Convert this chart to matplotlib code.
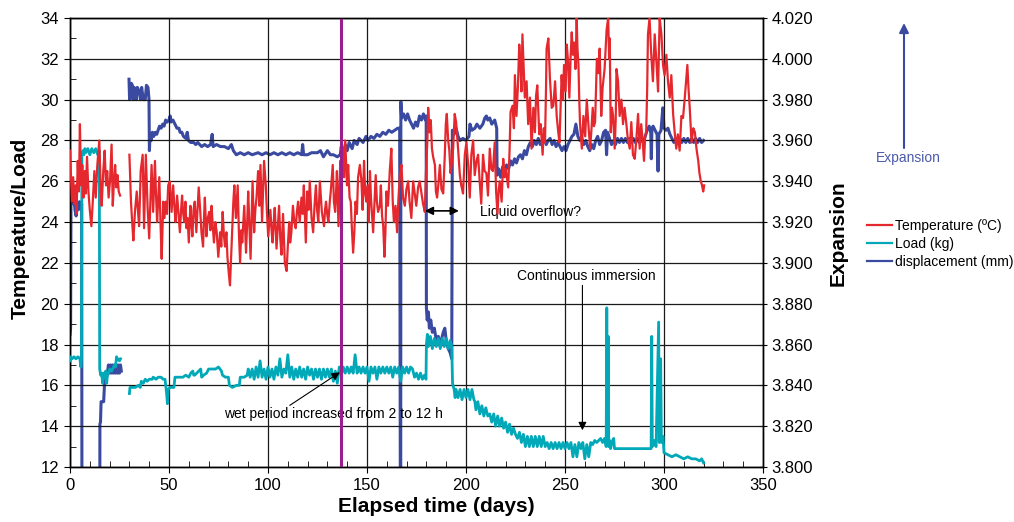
import numpy as np
import matplotlib.pyplot as plt
from matplotlib.lines import Line2D
from matplotlib.ticker import MultipleLocator, FormatStrFormatter

plt.rcParams['font.family'] = ['Liberation Sans', 'DejaVu Sans']

nan = np.nan

# temperature (deg C), (day, value)
temperature = [
    (0.0, 27.5), (0.5, 26.3), (1.0, 25.0), (1.6, 26.2), (2.2, 24.9), (2.8, 25.8), (3.3, 24.4),
    (3.9, 27.0), (4.5, 25.5), (5.0, 28.8), (5.6, 25.8), (6.2, 26.8), (6.8, 25.2), (7.4, 26.5),
    (8.0, 25.4), (8.6, 27.2), (9.3, 25.5), (10.0, 24.6), (10.8, 23.8), (11.5, 25.0), (12.3, 26.5),
    (13.0, 25.2), (13.8, 26.8), (14.8, 28.0), (15.5, 25.6), (16.0, 24.8), (16.8, 26.5), (17.5, 27.5),
    (18.2, 25.8), (18.8, 26.5), (19.5, 25.2), (20.2, 26.0), (21.0, 27.8), (21.6, 24.8), (22.2, 26.0),
    (22.8, 26.8), (23.4, 25.7), (24.0, 26.3), (24.6, 25.5), (25.3, 25.3), (27.0, nan),
    (30.0, 27.3), (30.8, 25.0), (31.4, 24.0), (32.0, 23.1), (32.8, 24.5), (33.7, 25.5), (34.3, 24.6),
    (34.9, 23.8), (35.7, 26.5), (36.7, 27.3), (37.4, 23.7), (38.3, 27.3), (39.2, 24.7), (40.0, 23.2),
    (40.6, 25.0), (41.2, 26.8), (42.0, 24.5), (42.9, 27.0), (43.5, 25.2), (44.0, 24.0), (45.1, 26.2),
    (45.7, 24.0), (46.3, 22.2), (47.1, 25.0), (47.7, 24.2), (48.3, 25.0), (49.0, 24.4), (49.6, 25.8),
    (50.4, 26.0), (51.3, 24.5), (52.1, 25.8), (52.7, 24.8), (53.3, 24.0), (54.1, 25.3), (54.8, 24.4),
    (55.5, 23.5), (56.1, 24.6), (56.6, 25.3), (57.2, 24.4), (57.7, 24.0), (58.3, 25.0), (58.8, 23.7),
    (59.4, 24.2), (60.0, 23.0), (60.8, 24.8), (61.3, 24.0), (61.8, 23.3), (62.4, 24.6), (63.0, 25.0),
    (63.8, 23.5), (64.4, 24.6), (65.0, 25.7), (65.8, 24.5), (66.4, 23.5), (67.2, 22.8), (67.6, 24.0),
    (68.1, 25.2), (68.9, 23.3), (69.6, 24.2), (70.3, 24.5), (70.9, 23.6), (71.5, 24.8), (72.1, 23.8),
    (72.7, 23.0), (73.4, 24.0), (74.1, 23.5), (74.9, 22.3), (75.8, 23.5), (76.4, 22.8), (77.1, 24.5),
    (77.7, 23.4), (78.3, 22.8), (79.0, 23.5), (79.5, 22.3), (80.2, 21.5), (80.8, 20.9), (81.4, 22.4),
    (82.0, 23.8), (82.5, 25.0), (83.0, 25.8), (83.8, 24.2), (84.7, 25.8), (85.3, 23.5), (85.9, 22.0),
    (86.5, 23.6), (87.0, 23.0), (88.0, 24.8), (88.9, 22.5), (89.5, 24.0), (90.0, 25.5), (90.6, 23.8),
    (91.2, 22.2), (91.7, 24.0), (92.2, 26.0), (93.0, 23.5), (93.6, 24.6), (94.2, 25.2), (95.0, 26.5),
    (95.6, 24.8), (96.2, 26.8), (97.0, 24.0), (97.5, 25.5), (98.0, 27.0), (98.9, 25.8), (99.5, 24.4),
    (100.1, 23.3), (100.7, 24.0), (101.2, 24.6), (101.8, 23.6), (102.3, 23.0), (102.9, 24.0),
    (103.4, 24.7), (104.3, 22.7), (105.0, 23.8), (105.6, 24.8), (106.2, 23.2), (106.8, 22.4),
    (107.6, 24.4), (108.5, 22.0), (109.4, 21.6), (110.0, 22.8), (110.7, 24.0), (111.2, 23.0),
    (111.8, 23.5), (112.6, 24.8), (113.3, 24.0), (114.0, 23.7), (114.6, 24.5), (115.2, 25.0),
    (116.0, 24.0), (116.9, 25.2), (117.5, 24.4), (118.1, 25.8), (119.1, 23.0), (119.8, 25.5),
    (120.5, 24.6), (121.1, 26.0), (122.0, 24.2), (122.8, 23.5), (123.5, 24.8), (124.2, 25.8),
    (124.8, 24.6), (125.4, 24.0), (126.2, 26.0), (127.2, 24.5), (128.3, 23.8), (128.8, 24.6),
    (129.3, 25.0), (130.0, 24.3), (130.5, 24.0), (131.2, 25.0), (131.7, 25.5), (132.7, 26.8),
    (133.3, 25.0), (133.9, 24.5), (134.4, 25.5), (134.8, 26.5), (135.6, 23.8), (136.1, 25.5),
    (136.5, 27.0), (137.2, 26.0), (137.8, 27.6), (138.4, 26.2), (139.0, 28.0), (139.9, 25.8),
    (140.5, 26.8), (141.2, 25.2), (141.8, 25.0), (142.4, 23.6), (143.0, 22.5), (143.6, 23.5),
    (144.2, 25.0), (144.9, 24.4), (145.5, 26.2), (146.4, 26.8), (147.2, 26.0), (147.8, 24.6),
    (148.5, 27.0), (149.1, 25.4), (149.7, 25.0), (150.4, 25.8), (150.9, 24.0), (151.5, 26.5),
    (152.0, 25.2), (153.1, 23.5), (153.7, 24.8), (154.4, 26.3), (155.0, 25.0), (155.6, 24.5),
    (156.5, 24.8), (157.0, 25.8), (157.6, 24.3), (158.2, 23.8), (158.8, 22.3), (159.3, 23.5),
    (159.8, 25.5), (160.6, 24.8), (161.5, 26.5), (162.3, 27.6), (163.0, 25.0), (163.6, 24.0),
    (164.4, 24.8), (165.2, 23.5), (165.8, 25.0), (166.6, 26.3), (167.4, 26.8), (168.2, 25.2),
    (169.1, 24.8), (169.9, 25.6), (170.8, 26.0), (171.5, 25.0), (172.4, 24.2), (173.3, 26.0),
    (174.1, 25.4), (174.9, 24.8), (175.8, 25.7), (176.6, 26.0), (177.5, 25.4), (178.3, 24.9),
    (179.2, 24.5), (179.8, 26.5), (180.5, 28.0), (180.9, 29.6), (181.6, 28.4), (182.2, 29.0),
    (182.8, 27.6), (183.4, 27.2), (184.3, 26.8), (184.8, 25.5), (185.4, 25.2), (186.0, 25.8),
    (186.8, 26.8), (187.6, 25.6), (188.5, 25.4), (189.3, 27.3), (189.8, 28.8), (190.3, 29.3),
    (191.0, 28.0), (191.6, 27.5), (192.2, 26.4), (192.7, 26.8), (193.5, 27.6), (194.3, 29.3),
    (195.0, 28.9), (196.0, 27.6), (196.9, 26.3), (197.6, 25.8), (198.5, 25.4), (199.4, 27.3),
    (200.2, 27.9), (201.1, 26.8), (201.9, 25.2), (202.7, 27.3), (203.6, 28.0), (204.4, 26.3),
    (205.3, 27.0), (206.1, 27.3), (206.9, 26.0), (207.7, 24.9), (208.6, 27.3), (209.4, 26.5),
    (210.3, 26.4), (211.1, 25.3), (212.0, 27.6), (212.8, 26.6), (213.6, 26.5), (214.5, 27.9),
    (215.2, 25.5), (215.9, 24.4), (216.5, 25.6), (217.1, 26.0), (218.0, 25.0), (218.8, 27.1),
    (219.5, 26.2), (220.1, 26.6), (221.3, 25.7), (222.0, 27.5), (222.5, 29.4), (223.5, 29.7),
    (224.2, 28.6), (224.7, 31.2), (225.5, 29.2), (226.2, 30.6), (226.9, 32.7), (227.5, 31.7),
    (228.0, 30.4), (228.5, 33.2), (229.1, 31.6), (229.7, 30.1), (230.6, 30.9), (231.4, 28.8),
    (232.3, 30.1), (233.1, 27.6), (234.0, 29.6), (234.8, 28.4), (235.4, 30.2), (236.0, 30.7),
    (237.0, 28.3), (237.7, 28.8), (238.7, 27.3), (239.3, 28.6), (239.9, 27.9), (240.4, 30.5),
    (240.7, 32.5), (241.6, 33.0), (242.4, 31.0), (243.3, 29.6), (244.1, 29.7), (245.0, 30.9),
    (245.8, 29.2), (246.5, 28.5), (247.2, 27.9), (248.3, 31.2), (249.0, 30.0), (249.5, 31.7),
    (250.3, 30.4), (250.9, 32.7), (251.6, 31.8), (252.2, 30.1), (252.8, 32.0), (253.4, 33.3),
    (254.0, 32.2), (254.6, 32.8), (255.3, 31.5), (255.9, 34.0), (256.3, 32.5), (256.8, 31.7),
    (257.2, 30.0), (257.6, 28.8), (258.5, 27.6), (259.3, 29.2), (260.2, 28.2), (261.0, 30.0),
    (261.8, 28.8), (262.7, 27.6), (263.4, 28.6), (264.0, 29.6), (264.6, 28.7), (265.2, 28.9),
    (266.1, 32.0), (266.8, 31.3), (267.5, 32.5), (268.3, 29.2), (269.0, 30.6), (270.0, 31.5),
    (271.0, 33.4), (271.8, 34.0), (272.3, 32.0), (272.6, 33.0), (273.1, 28.4), (273.7, 29.6),
    (274.3, 29.2), (275.1, 27.6), (275.6, 29.0), (276.0, 31.5), (276.8, 30.9), (277.6, 29.2),
    (278.5, 30.0), (279.3, 28.8), (280.1, 29.6), (281.0, 28.8), (281.8, 28.0), (282.7, 27.6),
    (283.5, 28.9), (284.3, 27.3), (285.2, 27.1), (286.0, 28.0), (286.9, 29.3), (287.7, 27.6),
    (288.5, 28.8), (289.2, 28.0), (289.9, 27.0), (290.5, 28.2), (291.0, 28.4), (291.5, 30.5),
    (291.9, 33.2), (292.7, 34.0), (293.5, 32.3), (294.4, 30.9), (295.3, 33.2), (296.2, 31.8),
    (297.0, 30.4), (297.8, 34.0), (298.7, 33.2), (299.5, 31.7), (300.3, 31.2), (301.2, 32.2),
    (302.0, 30.9), (302.9, 30.1), (303.7, 31.2), (304.6, 29.3), (305.4, 28.4), (306.2, 27.6),
    (307.0, 28.3), (307.9, 27.5), (308.8, 29.2), (309.6, 29.1), (310.5, 30.1), (311.8, 31.7),
    (312.4, 30.5), (313.0, 29.6), (313.9, 27.9), (314.8, 28.6), (315.6, 28.4), (316.4, 27.6),
    (317.3, 27.0), (317.9, 26.4), (318.6, 26.0), (319.2, 25.8), (319.8, 25.5), (320.3, 25.8),
]

# load (kg)
load = [
    (0.0, 17.2), (0.3, 17.4), (1.0, 17.3), (2.0, 17.4), (3.0, 17.3), (4.0, 17.4), (5.0, 17.3),
    (5.5, 16.9), (5.8, 17.3), (6.0, 27.3), (6.5, 27.5), (7.0, 27.3), (7.5, 27.6), (8.0, 27.4),
    (9.0, 27.6), (10.0, 27.3), (11.0, 27.6), (12.0, 27.4), (13.0, 27.6), (14.0, 27.3), (14.8, 27.5),
    (15.0, 16.8), (15.5, 16.5), (16.0, 16.6), (16.5, 16.1), (17.0, 16.6), (17.5, 16.4), (18.0, 16.7),
    (18.5, 16.1), (19.0, 16.6), (19.5, 16.6), (20.0, 16.8), (21.0, 16.7), (22.0, 16.9), (22.5, 17.0),
    (23.0, 16.9), (23.5, 17.4), (24.0, 17.3), (25.0, 17.2), (25.5, 17.3), (27.0, nan),
    (30.0, 15.6), (30.3, 15.9), (31.0, 15.9), (33.0, 15.9), (34.5, 16.0), (35.5, 15.9), (36.0, 16.2),
    (37.0, 16.1), (38.0, 16.3), (39.0, 16.2), (40.0, 16.3), (41.5, 16.3), (42.0, 16.4), (43.5, 16.3),
    (44.5, 16.4), (46.0, 16.4), (47.0, 16.3), (48.0, 16.3), (48.8, 15.6), (49.2, 15.1), (49.6, 15.8),
    (50.5, 15.9), (52.5, 15.9), (53.0, 16.4), (55.0, 16.4), (57.0, 16.4), (58.5, 16.5), (60.0, 16.4),
    (61.0, 16.6), (62.0, 16.7), (62.5, 16.5), (63.0, 16.5), (65.0, 16.7), (66.0, 16.8), (66.5, 16.4),
    (67.5, 16.5), (69.0, 16.6), (70.0, 16.8), (72.0, 16.8), (73.5, 16.8), (75.0, 16.9), (76.5, 16.7),
    (77.0, 16.5), (78.5, 16.4), (80.0, 16.4), (80.5, 16.0), (82.0, 15.9), (84.0, 16.0), (85.5, 16.0),
    (86.0, 16.4), (88.0, 16.4), (89.5, 16.5), (90.0, 16.8), (91, 16.4), (92, 16.8), (93, 16.3),
    (94, 16.9), (95, 16.4), (96, 17.2), (97, 16.4), (98, 16.8), (99, 16.3), (100, 16.9), (101, 16.4),
    (102, 16.8), (103, 16.3), (104, 16.9), (105, 16.5), (106, 17.3), (107, 16.4), (108, 16.8),
    (109, 16.6), (110, 17.5), (111, 16.4), (112, 16.9), (113, 16.3), (114, 16.8), (115, 16.4),
    (116, 16.9), (117, 16.4), (118, 16.8), (119, 16.3), (120, 16.9), (121, 16.5), (122, 16.8),
    (123, 16.3), (124, 16.8), (125, 16.4), (126, 16.8), (127, 16.3), (128, 16.8), (129, 16.4),
    (130, 16.8), (131, 16.4), (132, 16.8), (133, 16.2), (134, 16.7), (135, 16.1), (136, 16.9),
    (137, 16.5), (138, 16.9), (139, 16.6), (140, 16.9), (141, 16.6), (142, 16.9), (143, 16.6),
    (144, 17.5), (145, 16.6), (146, 16.9), (147, 16.6), (148, 16.9), (149, 16.6), (150, 16.9),
    (151, 16.2), (152, 16.9), (153, 16.6), (154, 16.9), (155, 16.3), (156, 16.9), (157, 16.6),
    (158, 16.9), (159, 16.6), (160, 16.9), (161, 16.6), (162, 16.9), (163, 16.4), (164, 16.9),
    (165, 16.6), (166, 16.9), (167, 16.2), (168, 16.9), (169, 16.6), (170, 16.9), (171, 16.6),
    (172, 16.9), (173, 16.8), (174, 16.4), (175, 16.6), (176, 16.3), (177, 16.6), (178, 16.3),
    (179, 16.5), (179.8, 16.3), (180.0, 18.0), (180.5, 18.5), (181.0, 17.9), (182, 18.4), (183, 17.8),
    (184, 18.3), (185, 17.9), (186, 18.3), (187, 17.8), (188, 18.3), (189, 17.9), (190, 18.3),
    (191, 17.8), (192, 18.2), (192.8, 17.9), (193.2, 16.1), (194.0, 15.8), (194.5, 15.4), (195, 15.8),
    (196, 15.4), (197, 15.8), (198, 15.3), (199, 15.8), (200, 15.4), (201, 15.8), (202, 15.3),
    (203, 15.8), (204, 15.3), (204.5, 15.2), (205, 14.8), (206, 15.2), (207, 14.6), (208, 15.0),
    (209, 14.5), (210, 14.9), (211, 14.5), (212, 14.6), (213, 14.2), (214, 14.6), (215, 14.0),
    (216, 14.5), (217, 14.0), (218, 14.4), (219, 13.9), (220, 14.2), (221, 13.7), (222, 14.1),
    (223, 13.6), (224, 13.9), (225, 13.6), (226, 13.4), (227, 13.7), (228, 13.2), (229, 13.6),
    (230, 13.0), (231, 13.5), (232, 13.0), (233, 13.5), (234, 13.0), (235, 13.5), (236, 13.0),
    (237, 13.5), (238, 13.0), (239, 13.5), (240, 13.0), (241, 13.2), (242, 12.9), (243, 13.2),
    (244, 12.9), (245, 13.2), (246, 12.9), (247, 13.2), (248, 12.9), (249, 13.2), (250, 12.9),
    (251, 13.2), (252, 12.9), (253, 13.2), (254, 12.5), (255, 13.1), (256, 12.5), (257, 13.2),
    (258, 12.9), (259, 13.2), (260, 12.4), (261, 13.1), (262, 12.5), (263, 13.2), (264, 13.1),
    (265, 13.3), (266, 13.2), (267, 13.3), (268, 13.4), (269, 13.2), (270, 13.4), (270.8, 13.0),
    (271.1, 19.8), (271.4, 13.2), (271.8, 18.4), (272.1, 13.0), (272.5, 13.3), (273, 12.9),
    (274, 13.3), (274.6, 13.4), (275, 12.9), (280, 12.9), (285, 12.9), (290, 12.9), (293.5, 12.9),
    (293.8, 18.4), (294.1, 13.0), (295, 13.3), (296, 13.0), (297.3, 19.1), (297.6, 13.2),
    (298.3, 17.3), (298.7, 13.2), (299.5, 13.5), (300, 12.7), (302, 12.6), (304, 12.5), (306, 12.6),
    (308, 12.5), (310, 12.4), (312, 12.5), (314, 12.4), (316, 12.4), (318, 12.3), (319, 12.4),
    (320, 12.2),
]

# displacement (mm), right axis; 3.70 = below the visible range
displacement = [
    (0.0, 3.865), (0.3, 3.868), (0.5, 3.930), (1.0, 3.934), (1.5, 3.929), (2.0, 3.933), (2.5, 3.926),
    (3.1, 3.923), (3.6, 3.929), (4.2, 3.926), (4.8, 3.930), (5.4, 3.927), (5.9, 3.929), (6.1, 3.70),
    (15.0, 3.70), (15.1, 3.821), (15.4, 3.822), (15.7, 3.832), (17.0, 3.832), (17.5, 3.842),
    (18.3, 3.843), (18.9, 3.846), (19.4, 3.850), (20.0, 3.846), (20.5, 3.850), (21.0, 3.846),
    (21.5, 3.850), (22.0, 3.846), (22.5, 3.850), (23.0, 3.846), (23.5, 3.850), (24.0, 3.846),
    (24.5, 3.850), (25.0, 3.846), (25.5, 3.850), (25.9, 3.847), (27.0, nan),
    (29.8, 3.990), (30.1, 3.980), (30.6, 3.981), (31.0, 3.988), (31.5, 3.987), (32.0, 3.980),
    (32.4, 3.986), (33.0, 3.985), (33.5, 3.980), (34.0, 3.986), (35.0, 3.984), (35.6, 3.980),
    (36.2, 3.986), (37.0, 3.980), (38.0, 3.980), (38.6, 3.987), (39.4, 3.986), (39.9, 3.980),
    (40.1, 3.955), (40.4, 3.962), (41.0, 3.960), (41.6, 3.964), (42.3, 3.962), (43.0, 3.964),
    (43.8, 3.963), (44.5, 3.965), (45.2, 3.967), (46.0, 3.966), (46.8, 3.968), (47.5, 3.967),
    (48.3, 3.970), (49.0, 3.969), (50.0, 3.970), (50.6, 3.972), (51.0, 3.969), (52.0, 3.970),
    (53.0, 3.968), (54.0, 3.966), (55.0, 3.966), (55.6, 3.964), (56.5, 3.964), (57.3, 3.962),
    (58.5, 3.961), (59.2, 3.964), (59.8, 3.960), (61.0, 3.959), (62.5, 3.959), (63.5, 3.958),
    (64.5, 3.959), (65.5, 3.958), (66.5, 3.957), (68.0, 3.958), (69.5, 3.957), (71.0, 3.958),
    (71.8, 3.963), (72.3, 3.957), (74.0, 3.958), (76.0, 3.957), (78.0, 3.957), (80.0, 3.956),
    (81.5, 3.958), (82.5, 3.955), (84.0, 3.953), (86.0, 3.954), (88.0, 3.953), (90.0, 3.954),
    (92.0, 3.953), (95.0, 3.954), (97.0, 3.953), (99.0, 3.954), (101.0, 3.953), (103.0, 3.954),
    (105.0, 3.953), (107.0, 3.954), (109.0, 3.953), (111.0, 3.954), (113.0, 3.953), (115.0, 3.954),
    (117.0, 3.953), (117.5, 3.958), (118.0, 3.953), (120.0, 3.953), (122.0, 3.954), (125.0, 3.954),
    (126.5, 3.955), (128.0, 3.952), (130.0, 3.955), (131.5, 3.953), (133.0, 3.953), (135.0, 3.952),
    (136.5, 3.953), (137.0, 3.957), (138.0, 3.953), (139.0, 3.958), (140.0, 3.955), (141.0, 3.959),
    (142.5, 3.956), (143.5, 3.960), (145.0, 3.958), (146.0, 3.961), (148.0, 3.959), (149.5, 3.962),
    (150.5, 3.960), (152.0, 3.962), (153.5, 3.961), (155.0, 3.963), (156.5, 3.962), (158.0, 3.964),
    (159.5, 3.963), (161.0, 3.965), (162.5, 3.964), (164.0, 3.965), (165.5, 3.966), (166.5, 3.966),
    (167.0, 3.70), (167.1, 3.979), (167.5, 3.971), (168.5, 3.973), (169.5, 3.970), (170.5, 3.973),
    (171.5, 3.970), (172.5, 3.968), (173.5, 3.966), (174.5, 3.969), (175.5, 3.967), (176.5, 3.972),
    (177.5, 3.970), (178.5, 3.973), (179.5, 3.970), (179.9, 3.972),
    (180.0, 3.878), (180.4, 3.872), (181.0, 3.876), (181.5, 3.868), (182.2, 3.872), (183.0, 3.866),
    (184.0, 3.868), (185.0, 3.862), (186.0, 3.864), (187.0, 3.860), (188.5, 3.866), (189.3, 3.868),
    (190.0, 3.862), (191.0, 3.858), (192.0, 3.856), (192.8, 3.853),
    (193.1, 3.965), (194.0, 3.963), (195.0, 3.966), (196.0, 3.962), (197.0, 3.960), (198.5, 3.961),
    (200.0, 3.960), (201.5, 3.962), (202.0, 3.968), (203.0, 3.965), (204.5, 3.966), (205.5, 3.968),
    (207.0, 3.966), (208.5, 3.968), (209.5, 3.971), (210.3, 3.972), (211.0, 3.970), (212.0, 3.971),
    (213.0, 3.968), (214.5, 3.970), (215.5, 3.966), (215.7, 3.943), (216.5, 3.946), (217.5, 3.942),
    (218.5, 3.947), (219.5, 3.944), (220.5, 3.948), (221.5, 3.946), (222.5, 3.950), (223.5, 3.948),
    (224.5, 3.951), (225.5, 3.949), (226.5, 3.952), (227.5, 3.953), (228.5, 3.951), (229.5, 3.955),
    (230.5, 3.953), (231.5, 3.957), (232.5, 3.959), (233.5, 3.957), (234.5, 3.960), (235.5, 3.958),
    (236.5, 3.961), (237.5, 3.958), (238.5, 3.960), (239.5, 3.961), (240.5, 3.958), (241.5, 3.960),
    (242.5, 3.961), (243.5, 3.958), (244.5, 3.960), (245.5, 3.957), (246.5, 3.959), (247.5, 3.957),
    (248.5, 3.955), (249.5, 3.957), (250.5, 3.955), (251.5, 3.958), (252.5, 3.960), (253.5, 3.962),
    (254.5, 3.963), (255.5, 3.968), (256.5, 3.962), (257.5, 3.960), (258.5, 3.961), (259.5, 3.958),
    (260.5, 3.960), (261.5, 3.957), (262.5, 3.955), (263.5, 3.958), (264.5, 3.956), (265.5, 3.960),
    (266.5, 3.962), (267.5, 3.958), (268.5, 3.960), (269.5, 3.964), (270.5, 3.965), (271.0, 3.953),
    (271.5, 3.964), (272.5, 3.961), (273.5, 3.958), (274.5, 3.960), (275.5, 3.958), (276.5, 3.961),
    (277.5, 3.959), (278.5, 3.961), (279.5, 3.959), (280.5, 3.961), (281.5, 3.959), (282.5, 3.961),
    (283.5, 3.959), (284.5, 3.961), (285.5, 3.959), (286.5, 3.961), (287.5, 3.959), (288.5, 3.961),
    (289.5, 3.959), (290.5, 3.962), (291.5, 3.965), (292.5, 3.967), (293.3, 3.964), (293.6, 3.951),
    (293.9, 3.966), (294.5, 3.967), (295.5, 3.965), (296.5, 3.963), (297.0, 3.945), (297.4, 3.963),
    (298.5, 3.965), (299.4, 3.976), (300.0, 3.966), (301.0, 3.965), (302.0, 3.966), (303.0, 3.963),
    (304.0, 3.961), (305.0, 3.959), (306.0, 3.961), (307.0, 3.959), (308.0, 3.961), (309.0, 3.959),
    (310.0, 3.961), (311.0, 3.959), (312.0, 3.961), (313.0, 3.959), (314.0, 3.961), (315.0, 3.959),
    (316.0, 3.961), (317.0, 3.959), (318.0, 3.961), (319.0, 3.959), (320.0, 3.960),
]

wet_change_day = 137

RED = '#e5282d'
TEAL = '#00a8b8'
NAVY = '#3a4aa0'
PURPLE = '#9a1e8c'

t_day, t_val = np.array(temperature).T
l_day, l_val = np.array(load).T
d_day, d_val = np.array(displacement).T

fig = plt.figure(figsize=(10.14, 5.22), dpi=100)
ax = fig.add_axes([70 / 1014, 1 - 467 / 522, 693 / 1014, 449 / 522])
ax2 = ax.twinx()
# temperature and load drawn over the displacement curve
ax.set_zorder(ax2.get_zorder() + 1)
ax.patch.set_visible(False)

ax2.plot(d_day, d_val, color=NAVY, lw=2.2)
ax.plot(l_day, l_val, color=TEAL, lw=2.0, zorder=3)
ax.plot(t_day, t_val, color=RED, lw=1.6, zorder=4)
ax.plot([wet_change_day, wet_change_day], [12, 33.9], color=PURPLE, lw=2.2, zorder=5)

ax.set_xlim(0, 350)
ax.set_ylim(12, 34)
ax2.set_ylim(3.8, 4.02)

ax.xaxis.set_major_locator(MultipleLocator(50))
ax.xaxis.set_minor_locator(MultipleLocator(10))
ax.yaxis.set_major_locator(MultipleLocator(2))
ax.yaxis.set_minor_locator(MultipleLocator(1))
ax2.yaxis.set_major_locator(MultipleLocator(0.02))
ax2.yaxis.set_major_formatter(FormatStrFormatter('%.3f'))

ax.grid(True, which='major', color='#1a1a1a', lw=0.9, zorder=1)
ax.tick_params(which='major', direction='out', length=4, labelsize=12, pad=4)
ax.tick_params(which='minor', direction='in', length=4)
ax2.tick_params(direction='inout', length=6, labelsize=12, pad=3)

for a in (ax, ax2):
    for s in a.spines.values():
        s.set_linewidth(1.0)

ax.set_xlabel('Elapsed time (days)', fontsize=15, fontweight='bold')
ax.xaxis.set_label_coords(0.529, -0.066)
ax.set_ylabel('Temperature/Load', fontsize=15, fontweight='bold')
ax.yaxis.set_label_coords(-0.058, 0.532)
ax2.set_ylabel('Expansion', fontsize=15, fontweight='bold')
ax2.yaxis.set_label_coords(1.095, 0.52)

arrow = dict(arrowstyle='-|>', color='black', lw=0.8, mutation_scale=12, shrinkA=0, shrinkB=0)
ax.annotate('', xy=(136.3, 16.64), xytext=(111, 15.02), arrowprops=arrow, zorder=6)
ax.text(78, 14.58, 'wet period increased from 2 to 12 h', fontsize=10, va='center', ha='left')
ax.annotate('', xy=(258.8, 13.8), xytext=(258.8, 20.9), arrowprops=arrow, zorder=6)
ax.text(260.8, 21.35, 'Continuous immersion', fontsize=10, va='center', ha='center')
ax.annotate('', xy=(196.4, 24.55), xytext=(179.2, 24.55),
            arrowprops=dict(arrowstyle='<|-|>', color='black', lw=1.2, mutation_scale=12,
                            shrinkA=0, shrinkB=0), zorder=6)
ax.text(207, 24.47, 'Liquid overflow?', fontsize=10, va='center', ha='left')

# "Expansion" direction arrow outside the plot
fig.add_artist(plt.Annotation('', xy=(904 / 1014, 1 - 23 / 522), xytext=(904 / 1014, 1 - 148 / 522),
                              xycoords='figure fraction', textcoords='figure fraction',
                              arrowprops=dict(arrowstyle='-|>', color=NAVY, lw=1.5,
                                              mutation_scale=14, shrinkA=0, shrinkB=0)))
fig.text(908 / 1014, 1 - 158 / 522, 'Expansion', color='#4b5aaa', fontsize=10, ha='center', va='center')

handles = [Line2D([], [], color=RED, lw=1.6),
           Line2D([], [], color=TEAL, lw=1.6),
           Line2D([], [], color=NAVY, lw=1.6)]
labels = ['Temperature (ºC)', 'Load (kg)', 'displacement (mm)']
fig.legend(handles, labels, loc='upper left', bbox_to_anchor=(867 / 1014, 1 - 219 / 522),
           frameon=False, fontsize=10, handlelength=1.8, handletextpad=0.2,
           labelspacing=0.3, borderaxespad=0, borderpad=0)

fig.savefig('out.png', dpi=100)
